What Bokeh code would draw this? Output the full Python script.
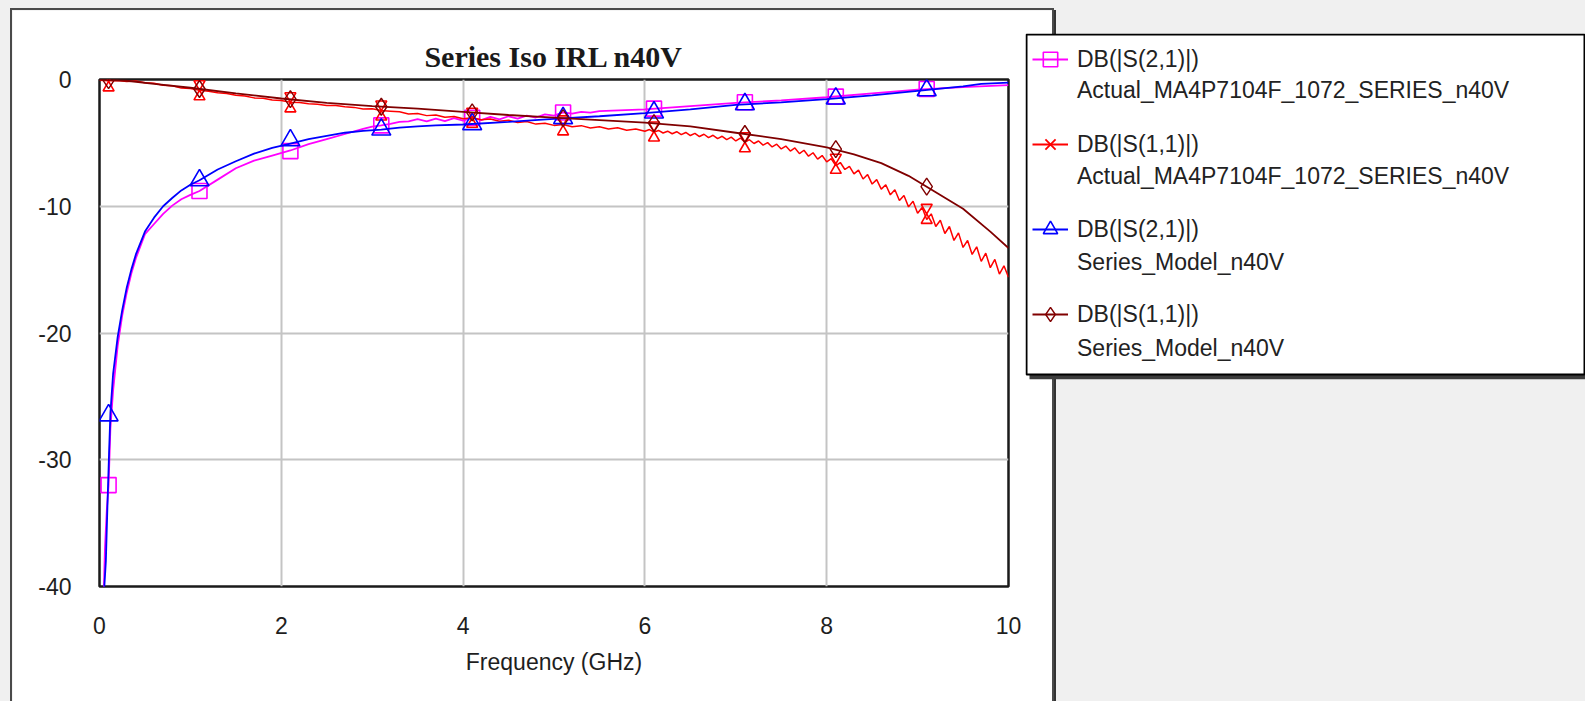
import numpy as np
from bokeh.plotting import figure
from bokeh.layouts import row
from bokeh.models import (Range1d, Legend, LegendItem, FixedTicker, ColumnDataSource,
                          BoxAnnotation)
from bokeh.transform import dodge
from bokeh.embed import file_html
from bokeh.resources import INLINE

# ---------------- data ----------------
TITLE = "Series Iso IRL n40V"
X_LABEL = "Frequency (GHz)"
X_TICKS = [0, 2, 4, 6, 8, 10]
Y_TICKS = [0, -10, -20, -30, -40]
Y_TICK_LABELS = {0: "0", -10: "-10", -20: "-20", -30: "-30", -40: "-40"}

LEGEND_MEAS = ["DB(|S(2,1)|)", "DB(|S(1,1)|)", "DB(|S(2,1)|)", "DB(|S(1,1)|)"]
LEGEND_SRC = ["Actual_MA4P7104F_1072_SERIES_n40V",
              "Actual_MA4P7104F_1072_SERIES_n40V",
              "Series_Model_n40V",
              "Series_Model_n40V"]

MARK_F = [0.1, 1.1, 2.1, 3.1, 4.1, 5.1, 6.1, 7.1, 8.1, 9.1]

# DB(|S(2,1)|) measured (magenta)
S21A_F = [0.045, 0.06, 0.08, 0.1, 0.12, 0.15, 0.2, 0.25, 0.3, 0.35,
          0.4, 0.5, 0.6, 0.7, 0.8, 0.9, 1.0, 1.1, 1.3, 1.5,
          1.7, 1.9, 2.1, 2.3, 2.5, 2.7, 2.9, 3.0, 3.1, 3.2,
          3.3, 3.4, 3.5, 3.6, 3.7, 3.8, 3.9, 4.0, 4.1, 4.2,
          4.3, 4.4, 4.5, 4.6, 4.7, 4.8, 4.9, 5.0, 5.1, 5.2,
          5.3, 5.4, 5.5, 6.0, 6.5, 7.0, 7.5, 8.0, 8.5, 9.0,
          9.5, 10.0]
S21A_DB = [-41, -37, -34, -32.0, -27.5, -24.5, -21.0, -18.6, -16.8, -15.3,
           -14.1, -12.2, -11.4, -10.6, -9.95, -9.45, -9.1, -8.8, -7.9, -7.0,
           -6.4, -6.0, -5.6, -5.1, -4.7, -4.3, -3.9, -3.72, -3.62, -3.5,
           -3.35, -3.3, -3.12, -3.3, -3.08, -3.28, -3.05, -3.25, -3.02, -3.2,
           -2.95, -3.15, -2.9, -3.08, -2.85, -3.0, -2.75, -2.85, -2.6, -2.7,
           -2.55, -2.62, -2.5, -2.35, -2.1, -1.85, -1.65, -1.4, -1.1, -0.8,
           -0.6, -0.45]
S21A_MK = [-32.0, -8.8, -5.65, -3.62, -3.02, -2.6, -2.3, -1.8, -1.35, -0.75]

# DB(|S(1,1)|) measured (red, noisy)
S11A_F = np.round(np.concatenate([np.arange(0.0, 6.0001, 0.1),
                                  np.arange(6.05, 10.0001, 0.05)]), 3)
S11A_DB_LO = [-0.05, -0.10, -0.08, -0.15, -0.12, -0.25, -0.30, -0.45, -0.50, -0.68,
              -0.72, -0.85, -0.92, -1.05, -1.10, -1.25, -1.30, -1.45, -1.48, -1.62,
              -1.66, -1.80, -1.82, -1.92, -1.95, -2.05, -2.06, -2.15, -2.20, -2.32,
              -2.30, -2.45, -2.50, -2.55, -2.72, -2.68, -2.85, -2.80, -2.98, -2.92,
              -3.10, -3.02, -3.18, -3.12, -3.30, -3.22, -3.40, -3.32, -3.52, -3.45,
              -3.62, -3.55, -3.72, -3.64, -3.82, -3.72, -3.90, -3.80, -4.00, -3.90,
              -4.08]
S11A_DB_HI = [-3.95, -4.15, -4.02, -4.22, -4.08, -4.28, -4.12, -4.35, -4.18, -4.42,
              -4.25, -4.50, -4.32, -4.58, -4.40, -4.66, -4.48, -4.75, -4.55, -4.85,
              -4.62, -4.95, -4.75, -5.05, -4.85, -5.18, -4.98, -5.32, -5.10, -5.48,
              -5.25, -5.65, -5.40, -5.85, -5.58, -6.05, -5.78, -6.28, -6.00, -6.50,
              -6.25, -6.80, -6.55, -7.10, -6.85, -7.45, -7.15, -7.85, -7.50, -8.25,
              -7.90, -8.65, -8.30, -9.10, -8.70, -9.55, -9.15, -10.05, -9.60, -10.55,
              -10.10, -11.05, -10.60, -11.60, -11.10, -12.15, -11.60, -12.70, -12.10, -13.25,
              -12.70, -13.80, -13.20, -14.35, -13.70, -14.85, -14.20, -15.35, -14.70, -15.60]
S11A_DB = S11A_DB_LO + S11A_DB_HI
S11A_MK = [-0.15, -0.85, -1.8, -2.45, -3.02, -3.62, -4.1, -4.95, -6.65, -10.6]

# DB(|S(2,1)|) model (blue)
S21M_F = [0.045, 0.07, 0.09, 0.105, 0.12, 0.15, 0.2, 0.25, 0.3, 0.35,
          0.4, 0.5, 0.6, 0.7, 0.8, 0.9, 1.0, 1.1, 1.3, 1.5,
          1.7, 1.9, 2.1, 2.3, 2.5, 2.7, 2.9, 3.1, 3.3, 3.5,
          3.7, 4.0, 4.5, 5.0, 5.5, 6.0, 6.5, 7.0, 7.5, 8.0,
          8.5, 9.0, 9.5, 9.7, 10.0]
S21M_DB = [-41, -38, -33, -29.5, -26.3, -23.2, -20.3, -18.2, -16.4, -15.0,
           -13.8, -12.0, -10.9, -10.0, -9.35, -8.75, -8.3, -7.95, -7.1, -6.45,
           -5.85, -5.4, -5.05, -4.7, -4.45, -4.2, -4.05, -3.95, -3.8, -3.7,
           -3.62, -3.55, -3.35, -3.1, -2.9, -2.65, -2.35, -2.0, -1.8, -1.55,
           -1.25, -0.9, -0.55, -0.35, -0.25]
S21M_MK = [-26.5, -7.95, -4.8, -3.95, -3.52, -3.05, -2.6, -1.95, -1.5, -0.85]

# DB(|S(1,1)|) model (dark red)
S11M_F = [0.0, 0.3, 0.6, 1.0, 1.5, 2.0, 2.5, 3.0, 3.5, 4.0,
          4.5, 5.0, 5.5, 6.0, 6.5, 7.0, 7.5, 8.0, 8.3, 8.6,
          8.9, 9.2, 9.5, 9.8, 10.0]
S11M_DB = [0.0, -0.1, -0.35, -0.65, -1.1, -1.5, -1.85, -2.1, -2.3, -2.55,
           -2.8, -3.0, -3.2, -3.4, -3.7, -4.2, -4.7, -5.35, -5.9, -6.6,
           -7.6, -8.9, -10.2, -12.0, -13.3]
S11M_MK = [-0.05, -0.75, -1.55, -2.15, -2.6, -3.05, -3.45, -4.3, -5.5, -8.45]

MAGENTA, RED, BLUE, BROWN = "#ff00ff", "#ff0000", "#0000ff", "#800000"
LW = 1.8

# ---------------- main figure (white panel) ----------------
PW, PH = 1040, 691                  # panel canvas, placed at page (12, 10)
FL, FR, FT, FB = 87, 996, 69, 576   # frame edges inside the panel canvas

p = figure(width=PW, height=PH, title=TITLE,
           x_range=Range1d(0, 10), y_range=Range1d(-40, 0),
           output_backend="svg", toolbar_location=None,
           min_border_left=FL, min_border_right=PW - FR,
           min_border_top=FT, min_border_bottom=PH - FB)
p.margin = (10, 0, 0, 12)
p.styles = {"outline": "2px solid #4a4a4a",
            "box-shadow": "4px 0px 0px 0px #333333"}
p.border_fill_color = "white"
p.background_fill_color = "white"
p.outline_line_color = "#1a1a1a"
p.outline_line_width = 2.5
p.outline_line_alpha = 1.0

p.title.align = "center"
p.title.text_font = "Liberation Serif"
p.title.text_font_style = "bold"
p.title.text_font_size = "30px"
p.title.text_color = "#1a1a1a"
p.title.standoff = 13

p.xaxis.ticker = FixedTicker(ticks=X_TICKS)
p.yaxis.ticker = FixedTicker(ticks=Y_TICKS)
p.yaxis.major_label_overrides = Y_TICK_LABELS
for ax in (p.xaxis[0], p.yaxis[0]):
    ax.axis_line_color = None
    ax.major_tick_line_color = None
    ax.minor_tick_line_color = None
    ax.major_tick_out = 0
    ax.major_tick_in = 0
    ax.minor_tick_out = 0
    ax.major_label_text_font = "Liberation Sans"
    ax.major_label_text_font_size = "23px"
    ax.major_label_text_color = "#1e1e1e"
p.yaxis.major_label_standoff = 28
p.xaxis.major_label_standoff = 30
p.xaxis.axis_label = X_LABEL
p.xaxis.axis_label_text_font = "Liberation Sans"
p.xaxis.axis_label_text_font_style = "normal"
p.xaxis.axis_label_text_font_size = "23px"
p.xaxis.axis_label_text_color = "#1e1e1e"
p.xaxis.axis_label_standoff = 12

p.grid.grid_line_color = "#c4c4c4"
p.grid.grid_line_width = 2

# series (drawn in legend order)
p.line(S21A_F, S21A_DB, line_color=MAGENTA, line_width=LW)
p.scatter(MARK_F, S21A_MK, marker="square", size=15,
          line_color=MAGENTA, line_width=1.6, fill_color=None)

red_src = ColumnDataSource(dict(f=MARK_F, db=S11A_MK))
p.line(list(S11A_F), S11A_DB, line_color=RED, line_width=1.5)
p.scatter(x="f", y=dodge("db", -0.5), source=red_src, marker="triangle",
          size=11, line_color=RED, line_width=1.6, fill_color=None)
p.scatter(x="f", y=dodge("db", 0.5), source=red_src, marker="inverted_triangle",
          size=11, line_color=RED, line_width=1.6, fill_color=None)

p.line(S21M_F, S21M_DB, line_color=BLUE, line_width=LW)
p.scatter(MARK_F, S21M_MK, marker="triangle", size=19,
          line_color=BLUE, line_width=1.6, fill_color=None)

p.line(S11M_F, S11M_DB, line_color=BROWN, line_width=LW)
p.scatter(MARK_F, S11M_MK, marker="diamond", size=17,
          line_color=BROWN, line_width=1.4, fill_color=None)

# ---------------- legend box (separate canvas overlapping the panel) ----------------
# Bokeh shares the row's top/bottom borders with this canvas,
# so the canvas is made taller and shifted up to keep its frame at page y 33..379.
BT, BB = FT, PH - FB
LGW, LGF = 560, 346                 # frame size (legend box 342 tall + 4 px shadow)
lg = figure(width=LGW, height=BT + LGF + BB, title=None,
            x_range=Range1d(0, LGW), y_range=Range1d(LGF, 0),
            output_backend="svg", toolbar_location=None,
            x_axis_location=None, y_axis_location=None,
            min_border=0, min_border_left=0, min_border_right=0,
            min_border_top=0, min_border_bottom=0)
lg.margin = (33 - BT, 0, 0, -27)
lg.grid.visible = False
lg.border_fill_alpha = 0
lg.background_fill_alpha = 0
lg.outline_line_color = None

lg.add_layout(BoxAnnotation(left=4, right=LGW, top=4, bottom=LGF,
                            fill_color="#3c3c3c", fill_alpha=1, line_alpha=0))
lg.add_layout(BoxAnnotation(left=1, right=LGW - 1, top=1, bottom=LGF - 5,
                            fill_color="white", fill_alpha=1,
                            line_color="black", line_alpha=1, line_width=2))

# legend swatches: styled like the series, with one point kept outside the view
OFF = [-1000.0]
g_mag = [lg.line(OFF, OFF, line_color=MAGENTA, line_width=LW),
         lg.scatter(OFF, OFF, marker="square", size=14, line_color=MAGENTA,
                    line_width=1.6, fill_color=None)]
g_red = [lg.line(OFF, OFF, line_color=RED, line_width=LW),
         lg.scatter(OFF, OFF, marker="x", size=14, line_color=RED, line_width=1.8)]
g_blu = [lg.line(OFF, OFF, line_color=BLUE, line_width=LW),
         lg.scatter(OFF, OFF, marker="triangle", size=16, line_color=BLUE,
                    line_width=1.6, fill_color=None)]
g_brn = [lg.line(OFF, OFF, line_color=BROWN, line_width=LW),
         lg.scatter(OFF, OFF, marker="diamond", size=17, line_color=BROWN,
                    line_width=1.4, fill_color=None)]
blank = lg.line(OFF, OFF, line_alpha=0)

leg_kw = dict(orientation="vertical", glyph_width=36,
              label_standoff=9, padding=0, margin=0,
              border_line_color=None, background_fill_alpha=0,
              label_text_font="Liberation Sans", label_text_font_size="23px",
              label_text_color="#222222")

# first text lines (with swatches): item pitch 85 px
legA = Legend(items=[LegendItem(label=LEGEND_MEAS[0], renderers=g_mag),
                     LegendItem(label=LEGEND_MEAS[1], renderers=g_red),
                     LegendItem(label=LEGEND_MEAS[2], renderers=g_blu),
                     LegendItem(label=LEGEND_MEAS[3], renderers=g_brn)],
              label_height=36, glyph_height=36,
              location=(7, LGF - 299), spacing=49, **leg_kw)
# second text lines: item pitch 86 px
legB = Legend(items=[LegendItem(label=s, renderers=[blank]) for s in LEGEND_SRC],
              label_height=30, glyph_height=30,
              location=(7, LGF - 330), spacing=56, **leg_kw)
lg.add_layout(legA)
lg.add_layout(legB)

layout = row(p, lg, styles={"background-color": "#f0f0f0"})

open("out.html", "w").write(file_html(layout, INLINE))
